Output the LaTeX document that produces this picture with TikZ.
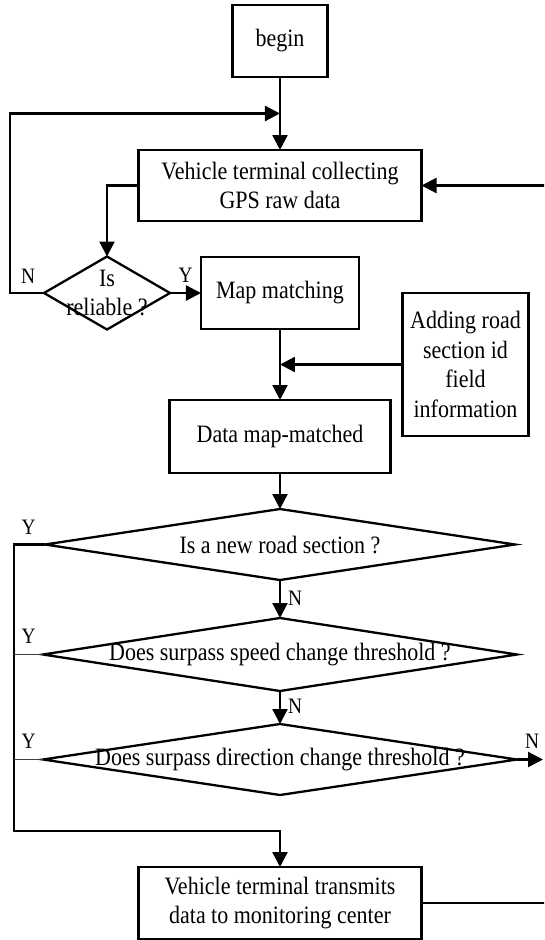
\documentclass[tikz,border=0pt]{standalone}
\usepackage{fontspec}
\setmainfont{Liberation Serif}[FakeStretch=0.88]
\usetikzlibrary{positioning,shapes.geometric,arrows.meta,calc}
\newcommand{\flowfont}{\fontsize{25}{29.5}\selectfont}
\newcommand{\ynfont}{\fontsize{22}{24}\selectfont}
\tikzset{
  box/.style={draw, line width=2.3pt, align=center, inner sep=0pt, outer sep=0pt, font=\flowfont},
  decision/.style={diamond, draw, line width=2.3pt, inner sep=0pt, outer sep=0pt},
  qtext/.style={font=\flowfont, align=center, inner sep=0pt},
  yn/.style={font=\ynfont, inner sep=0pt},
  flow/.style={line width=2.3pt, -{Triangle[length=15pt,width=15pt]}},
  tap/.style={line width=0.9pt, black!75}
}
\begin{document}
\begin{tikzpicture}
\path[use as bounding box, clip] (-280pt,41pt) rectangle (264pt,-899pt);

\node[box, minimum width=95pt, minimum height=72pt] (begin) at (0,0) {begin};
\node[box, minimum width=283pt, minimum height=71pt, below=73pt of begin] (collect) {Vehicle terminal collecting\\GPS raw data};
\node[box, minimum width=158pt, minimum height=72pt, below=36pt of collect] (mapm) {Map matching};
\node[decision, minimum width=126pt, minimum height=73pt, left=31pt of mapm,
      label={[qtext]center:Is\\reliable ?}] (reliable) {};
\node[box, minimum width=126pt, minimum height=143pt, anchor=north west] (adding)
      at ([shift={(43.5pt,-36pt)}]mapm.north east) {Adding road\\section id\\field\\information};
\node[box, minimum width=221pt, minimum height=73pt, below=71pt of mapm] (matched) {Data map-matched};
\node[decision, minimum width=470pt, minimum height=71pt, below=36pt of matched,
      label={[qtext]center:Is a new road section ?}] (newsec) {};
\node[decision, minimum width=474pt, minimum height=73pt, below=38pt of newsec,
      label={[qtext]center:Does surpass speed change threshold ?}] (speed) {};
\node[decision, minimum width=474pt, minimum height=71pt, below=33pt of speed,
      label={[qtext]center:Does surpass direction change threshold ?}] (direction) {};
\node[box, minimum width=283pt, minimum height=72pt, below=72pt of direction] (transmit) {Vehicle terminal transmits\\data to monitoring center};

\coordinate (loopin) at ($(begin.south)!.5!(collect.north)$);
\coordinate (ymerge) at ($(direction.south)!.5!(transmit.north)$);
\coordinate (redge) at (263pt,0);
\coordinate (rloop) at (272pt,0);

\draw[flow] (begin) -- (collect);
\draw[flow] (reliable.west) -- ++(-34pt,0) |- (loopin);
\draw[flow] (collect.west) -| (reliable.north);
\draw[flow] (reliable.east) -- (reliable.east -| mapm.west);
\draw[flow] (mapm) -- (matched);
\draw[flow] (adding.west) -- (adding.west -| mapm.south);
\draw[flow] (matched) -- (newsec);
\draw[flow] (newsec) -- (speed);
\draw[flow] (speed) -- (direction);
\draw[flow] (newsec.west) -- ++(-31pt,0) coordinate (trunk) |- (ymerge) -- (transmit);
\draw[tap] (speed.west) -- (speed.west -| trunk);
\draw[tap] (direction.west) -- (direction.west -| trunk);
\draw[flow] (direction.east) -- (direction.east -| redge);
\draw[flow] (transmit.east) -- (transmit.east -| rloop) -- (collect.east -| rloop) -- (collect.east);

\node[yn] (relN) at ([shift={(-16pt,17pt)}]reliable.west) {N};
\node[yn] (relY) at ([shift={(15.5pt,17.5pt)}]reliable.east) {Y};
\node[yn] (newY) at ([shift={(-16.5pt,17.5pt)}]newsec.west) {Y};
\node[yn] (newN) at ([shift={(15pt,-18.5pt)}]newsec.south) {N};
\node[yn] (spdY) at ([shift={(-14.5pt,18pt)}]speed.west) {Y};
\node[yn] (spdN) at ([shift={(15pt,-15pt)}]speed.south) {N};
\node[yn] (dirY) at ([shift={(-14.5pt,18pt)}]direction.west) {Y};
\node[yn] (dirN) at ([shift={(15pt,18pt)}]direction.east) {N};
\end{tikzpicture}
\end{document}
